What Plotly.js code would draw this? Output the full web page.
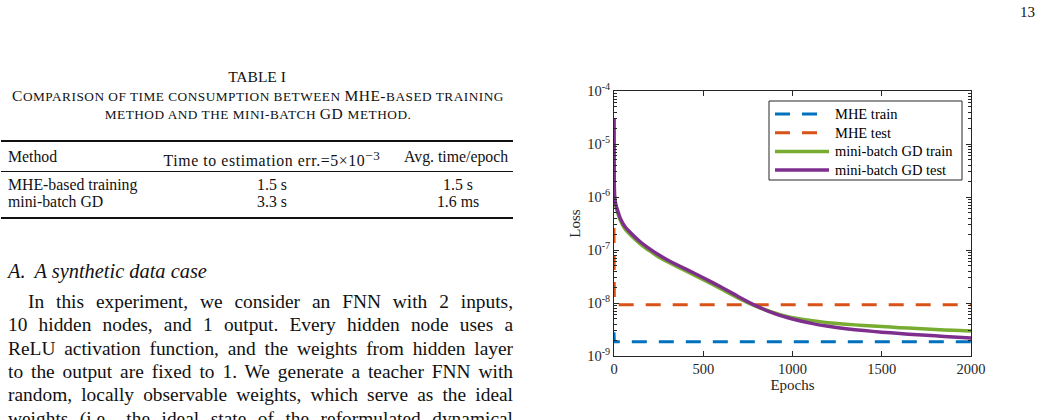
<!DOCTYPE html>
<html><head><meta charset="utf-8">
<script src="https://cdn.plot.ly/plotly-3.0.1.min.js"></script>
<style>
body{margin:0;background:#fff;}
#page{position:relative;width:1042px;height:420px;overflow:hidden;background:#fff;font-family:"Liberation Serif","Times New Roman",serif;color:#111;}
.t{position:absolute;white-space:nowrap;line-height:1;}
.c{transform:translateX(-50%);}
.rule{position:absolute;left:1px;width:512px;background:#111;}
.pl{position:absolute;left:8px;width:505px;font-size:19.4px;line-height:23px;height:23px;text-align:justify;text-align-last:justify;white-space:normal;overflow:visible;}
.cap{font-size:15.5px;letter-spacing:0.5px;}
.sc{font-size:13.3px;text-transform:uppercase;}
.tb{font-size:15.8px;}
#plot{position:absolute;left:540px;top:0;width:502px;height:420px;}
</style></head>
<body>
<div id="page">
  <div class="t" style="left:1020px;top:5px;font-size:15px;">13</div>
  <div class="t c" style="left:257px;top:69px;font-size:15.5px;">TABLE I</div>
  <div id="caption"></div>
  <div class="rule" style="top:140px;height:2px;"></div>
  <div class="rule" style="top:171px;height:1px;"></div>
  <div class="rule" style="top:217px;height:2px;"></div>
  <div id="table"></div>
  <div class="t" style="left:8px;top:261px;font-size:20.4px;font-style:italic;"><span style="margin-right:9px;">A.</span>A synthetic data case</div>
  <div id="para"></div>
  <div id="plot"></div>
</div>
<script>
// ---- table data ----
const captionLines = ['Comparison of time consumption between MHE-based training', 'method and the mini-batch GD method.'];
const tableHeader = ['Method', 'Time to estimation err.=5\u00d710<sup>\u22123</sup>', 'Avg. time/epoch'];
const tableMethods = ['MHE-based training', 'mini-batch GD'];
const tableTimeToErr = ['1.5 s', '3.3 s'];
const tableAvgTime = ['1.5 s', '1.6 ms'];

// ---- paragraph text ----
const paraLines = [
  'In this experiment, we consider an FNN with 2 inputs,',
  '10 hidden nodes, and 1 output. Every hidden node uses a',
  'ReLU activation function, and the weights from hidden layer',
  'to the output are fixed to 1. We generate a teacher FNN with',
  'random, locally observable weights, which serve as the ideal',
  'weights (i.e., the ideal state of the reformulated dynamical'
];

// ---- chart data ----
const seriesNames = ['MHE train', 'MHE test', 'mini-batch GD train', 'mini-batch GD test'];
const epochsMHE = [0, 2, 2000];
const mheTrain = [2.8e-9, 1.85e-9, 1.85e-9];
const mheTest = [2.6e-7, 9.3e-9, 9.3e-9];
const epochsGD = [0, 3, 8, 20, 35, 60, 100, 150, 200, 250, 300, 400, 500, 600, 700, 800, 900, 1000, 1100, 1200, 1300, 1400, 1500, 1600, 1700, 1800, 1900, 2000];
const gdTrain = [3.0e-5, 1.0e-6, 7.2e-7, 5.1e-7, 3.65e-7, 2.55e-7, 1.82e-7, 1.28e-7, 9.6e-8, 7.4e-8, 6.0e-8, 4.05e-8, 2.75e-8, 1.85e-8, 1.22e-8, 8.5e-9, 6.5e-9, 5.25e-9, 4.7e-9, 4.25e-9, 3.98e-9, 3.76e-9, 3.59e-9, 3.43e-9, 3.31e-9, 3.16e-9, 3.05e-9, 2.95e-9];
const gdTest = [3.1e-5, 1.1e-6, 7.8e-7, 5.6e-7, 4.0e-7, 2.8e-7, 2.0e-7, 1.4e-7, 1.05e-7, 8.1e-8, 6.5e-8, 4.4e-8, 3.0e-8, 2.0e-8, 1.3e-8, 8.7e-9, 6.3e-9, 5.0e-9, 4.17e-9, 3.63e-9, 3.27e-9, 3.02e-9, 2.82e-9, 2.66e-9, 2.51e-9, 2.4e-9, 2.29e-9, 2.19e-9];
const xTicks = [0, 500, 1000, 1500, 2000];
const yTickExps = [-9, -8, -7, -6, -5, -4];
const colors = ['#0072BD', '#D95319', '#77AC30', '#7E2F8E'];

// ---- build caption / table / paragraph ----
(function(){
  function smallCaps(s) {
    return s.replace(/([a-z][a-z .\-]*)/g, function(m){ return '<span class="sc">' + m + '</span>'; });
  }
  const cap = document.getElementById('caption');
  cap.innerHTML = '<div class="t c cap" style="left:258px;top:88px;">' + smallCaps(captionLines[0]) + '</div>' +
                  '<div class="t c cap" style="left:258px;top:106px;">' + smallCaps(captionLines[1]) + '</div>';
  const tb = document.getElementById('table');
  let h = '';
  h += '<div class="t tb" style="left:8px;top:149px;">' + tableHeader[0] + '</div>';
  h += '<div class="t tb c" style="left:272px;top:149px;letter-spacing:0.6px;">' + tableHeader[1] + '</div>';
  h += '<div class="t tb" style="left:404px;top:149px;">' + tableHeader[2] + '</div>';
  const rowTops = [177, 194];
  for (let i = 0; i < tableMethods.length; i++) {
    h += '<div class="t tb" style="left:8px;top:' + rowTops[i] + 'px;">' + tableMethods[i] + '</div>';
    h += '<div class="t tb c" style="left:272px;top:' + rowTops[i] + 'px;">' + tableTimeToErr[i] + '</div>';
    h += '<div class="t tb c" style="left:458px;top:' + rowTops[i] + 'px;">' + tableAvgTime[i] + '</div>';
  }
  tb.innerHTML = h;
  const p = document.getElementById('para');
  let s = '';
  paraLines.forEach((ln, i) => {
    const top = 290 + i * 23.3;
    const indent = i === 0 ? 'text-indent:20px;' : '';
    s += '<div class="pl" style="top:' + top + 'px;' + indent + '">' + ln + '</div>';
  });
  p.innerHTML = s;
})();

// ---- chart ----
const fontFam = 'Liberation Serif, Times New Roman, serif';
const axisColor = '#262626';
const minorVals = [];
for (let e = -9; e < -4; e++) for (let m = 2; m <= 9; m++) minorVals.push(m * Math.pow(10, e));

const dashStyle = '15px,12px';
const lineStyles = [
  {color: colors[0], width: 3, dash: dashStyle},
  {color: colors[1], width: 3, dash: dashStyle},
  {color: colors[2], width: 3.5},
  {color: colors[3], width: 3.5}
];
const traces = [
  {x: epochsMHE, y: mheTrain, name: seriesNames[0], mode: 'lines', line: lineStyles[0], showlegend: false},
  {x: epochsMHE, y: mheTest, name: seriesNames[1], mode: 'lines', line: lineStyles[1], showlegend: false},
  {x: epochsGD, y: gdTrain, name: seriesNames[2], mode: 'lines', line: Object.assign({shape: 'spline', smoothing: 0.6}, lineStyles[2]), showlegend: false},
  {x: epochsGD, y: gdTest, name: seriesNames[3], mode: 'lines', line: Object.assign({shape: 'spline', smoothing: 0.6}, lineStyles[3]), showlegend: false}
];

// legend box drawn in paper coordinates (plot area spans 357 x 265 px)
const pw = 357, ph = 265;
const px = v => v / pw, py = v => 1 - v / ph;   // offsets from plot's top-left
const legBox = {x0: 155, x1: 348, y0: 10, y1: 89};
const shapes = [{type: 'rect', xref: 'paper', yref: 'paper', x0: px(legBox.x0), x1: px(legBox.x1), y0: py(legBox.y1), y1: py(legBox.y0),
                 line: {color: axisColor, width: 1}, fillcolor: '#fff', layer: 'above'}];
const annotations = [];
seriesNames.forEach((nm, i) => {
  const yy = 23 + i * 18.7;
  shapes.push({type: 'line', xref: 'paper', yref: 'paper', x0: px(161), x1: px(215), y0: py(yy), y1: py(yy),
               line: {color: lineStyles[i].color, width: lineStyles[i].width, dash: lineStyles[i].dash || 'solid'}, layer: 'above'});
  annotations.push({xref: 'paper', yref: 'paper', x: px(219), y: py(yy), xanchor: 'left', yanchor: 'middle', text: nm,
                    showarrow: false, font: {family: fontFam, size: 14.5, color: '#000'}});
});

const layout = {
  width: 502, height: 420,
  margin: {l: 74, r: 71, t: 91, b: 64, pad: 0},
  paper_bgcolor: 'rgba(0,0,0,0)', plot_bgcolor: '#fff',
  font: {family: fontFam, size: 14.5, color: axisColor},
  showlegend: false,
  shapes: shapes,
  annotations: annotations,
  xaxis: {range: [0, 2000], tickmode: 'array', tickvals: xTicks, ticktext: xTicks.map(String),
          ticks: 'inside', ticklen: 5, tickcolor: axisColor, showline: true, linecolor: axisColor, linewidth: 1,
          mirror: 'ticks', showgrid: false, zeroline: false,
          title: {text: 'Epochs', font: {size: 15, color: axisColor}, standoff: 2}},
  yaxis: {type: 'log', range: [-9, -4], tickmode: 'array', tickvals: yTickExps.map(e => Math.pow(10, e)),
          ticktext: yTickExps.map(e => '10<sup>' + e + '</sup>'),
          ticks: 'inside', ticklen: 5, tickcolor: axisColor, showline: true, linecolor: axisColor, linewidth: 1,
          mirror: 'ticks', showgrid: false, zeroline: false,
          minor: {tickmode: 'array', tickvals: minorVals, ticks: 'inside', ticklen: 3, tickcolor: axisColor, showgrid: false},
          title: {text: 'Loss', font: {size: 15, color: axisColor}, standoff: 2}}
};
Plotly.newPlot('plot', traces, layout, {staticPlot: true, displayModeBar: false});
</script>
</body></html>
